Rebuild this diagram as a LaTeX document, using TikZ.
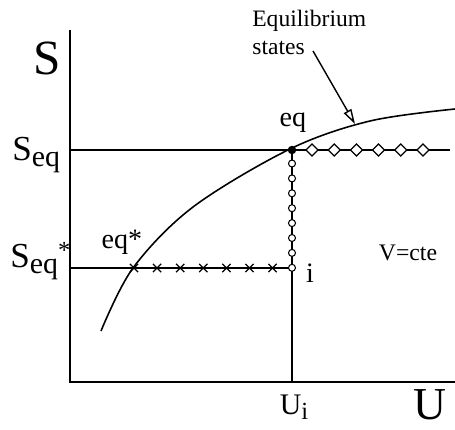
\documentclass[tikz,border=0pt]{standalone}
\usepackage{fontspec}
\setmainfont{Liberation Serif}
\usetikzlibrary{arrows.meta, shapes.geometric, shapes.misc, positioning}

\newcommand{\lowsub}[2]{#1\raisebox{-0.4ex}{\fontsize{#2}{#2}\selectfont eq}}

\begin{document}
\begin{tikzpicture}[x=0.02cm, y=-0.02cm,
  axis/.style={line width=1.1pt},
  guide/.style={line width=0.8pt},
  curve/.style={line width=0.9pt},
  lbl/.style={inner sep=0pt, font=\fontsize{16}{16}\selectfont},
  opendot/.style={circle, draw, fill=white, line width=0.6pt,
    inner sep=0pt, minimum size=0.14cm},
  fulldot/.style={circle, fill, inner sep=0pt, minimum size=0.17cm},
  diamark/.style={diamond, draw, fill=white, line width=0.7pt,
    inner sep=0pt, minimum size=0.25cm},
  crossmark/.style={cross out, draw, line width=0.7pt,
    inner sep=0pt, minimum size=0.14cm},
  openarrow/.style={-{Triangle[open, length=0.3cm, width=0.17cm]}, line width=0.8pt}
]
\useasboundingbox (0,0) rectangle (455,429);

%% axes
\coordinate (orig) at (70,382);
\coordinate (ytop) at (70,30);
\coordinate (xend) at (455,382);
\draw[axis] (ytop) -- (orig) -- (xend);

%% states on the plane
\coordinate (seqax)  at (70,150);
\coordinate (seqsax) at (70,268);
\coordinate (eq)     at (292,150);
\coordinate (ist)    at (292,268);
\coordinate (eqs)    at (134,268);
\coordinate (uiax)   at (292,382);
\coordinate (seqend) at (450,150);

\draw[guide] (seqax) -- (eq) -- (seqend);
\draw[guide] (seqsax) -- (ist);
\draw[guide] (eq) -- (uiax);

%% equilibrium curve
\draw[curve] plot[smooth, tension=0.55] coordinates {(101,331) (133,268)
  (193,207) (290,149) (370,121) (455,109)};

%% paths of states
\foreach \k in {0,...,7}
  \node[opendot] at (292,{163.5+14.9*\k}) {};
\foreach \k in {0,...,5}
  \node[diamark] at ({312+22.2*\k},150) {};
\foreach \k in {0,...,6}
  \node[crossmark] at ({134+23.1*\k},268) {};
\node[fulldot] at (eq) {};

%% labels
\node[inner sep=0pt, font=\fontsize{28}{28}\selectfont] (slab) at (47,58) {S};
\node[inner sep=0pt, font=\fontsize{26}{26}\selectfont] (ulab) at (430,405) {U};
\node[inner sep=0pt, anchor=base west, font=\fontsize{20}{20}\selectfont] (seqlab) at (12,160) {\lowsub{S}{17}};
\node[inner sep=0pt, anchor=base west, font=\fontsize{20}{20}\selectfont] (seqslab) at (10,267)
  {\lowsub{S}{17}\raisebox{0.55ex}{\fontsize{14}{14}\selectfont *}};
\node[lbl] (eqlab) at (293,123) {eq};
\node[lbl] (eqslab) at (122,242) {eq*};
\node[lbl] (ilab) at (310,273) {i};
\node[inner sep=0pt, font=\fontsize{13.5}{13.5}\selectfont] (vlab) at (408,253) {V=cte};
\node[inner sep=0pt, font=\fontsize{17}{17}\selectfont] (uilab) at (294,407) {U\raisebox{-0.4ex}{\fontsize{14}{14}\selectfont i}};
\node[inner sep=0pt, anchor=north west, align=left, font=\fontsize{13.4}{16}\selectfont]
  (eqstates) at (252,10) {Equilibrium\\states};

%% pointer to the curve
\coordinate (ptrtail) at (313,51);
\coordinate (ptr) at (355,124);
\draw[openarrow] (ptrtail) -- (ptr);

\end{tikzpicture}
\end{document}
